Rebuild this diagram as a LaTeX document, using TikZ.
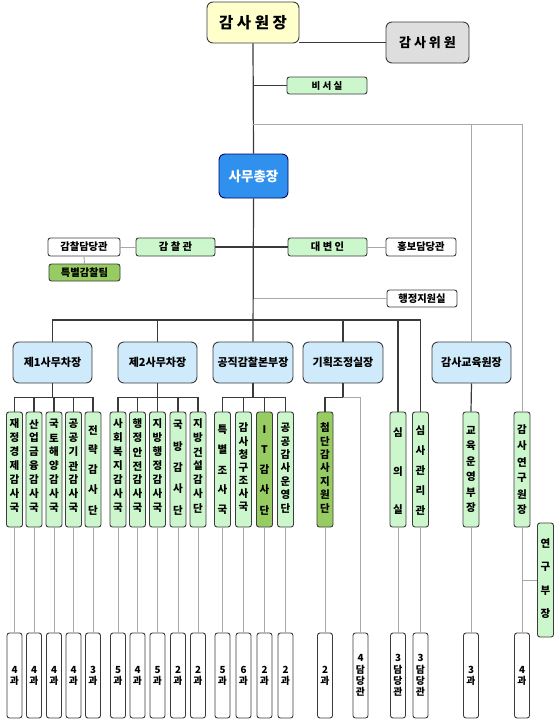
\documentclass[tikz,border=0pt]{standalone}
\usepackage{fontspec}
\newfontfamily\kr{Noto Sans CJK KR}
\definecolor{bordc}{HTML}{3C3C3C}
\definecolor{darkline}{HTML}{3A3A3A}
\definecolor{greyline}{HTML}{A8A8A8}
\definecolor{lgreen}{HTML}{CCF7CC}
\definecolor{dgreen}{HTML}{96CC62}
\definecolor{lblue}{HTML}{CFEAFA}
\definecolor{yell}{HTML}{FFFFCC}
\definecolor{lgray}{HTML}{DEDEDE}
\definecolor{blu}{HTML}{2F90EE}
\tikzset{
  box/.style={draw=bordc, line width=0.9pt, rounded corners=2.5pt, inner sep=0pt, font=\kr\bfseries\fontsize{10.3}{11}\selectfont},
  lg/.style={box, fill=lgreen},
  dg/.style={box, fill=dgreen},
  wh/.style={box, fill=white},
  dep/.style={box, fill=lblue, rounded corners=6pt, minimum width=79, minimum height=41, font=\kr\bfseries\fontsize{11}{12}\selectfont},
  vch/.style={inner sep=0pt, font=\kr\bfseries\fontsize{10.5}{11}\selectfont},
  bot/.style={wh, minimum width=15, minimum height=85, align=center, font=\kr\bfseries\fontsize{9.8}{11.2}\selectfont},
  mainln/.style={draw=darkline, line width=1.2pt},
  thinln/.style={draw=greyline, line width=0.9pt},
}
% name, style, x, top, bottom, text top, text bottom, chars
\newcommand\vcol[8]{%
  \node[#2, minimum width=16, minimum height={#5-#4}] (#1) at (#3,{(#4+#5)/2}) {};
  \foreach \cc [count=\ii] in {#8} {\xdef\vnum{\ii}}
  \foreach \cc [count=\ii] in {#8} {\node[vch] at (#3,{#6+(#7-#6)*(\ii-1)/(\vnum-1)}) {\cc};}
}
\begin{document}
\begin{tikzpicture}[x=1pt,y=-1pt]
\useasboundingbox (0,0) rectangle (560,721);
\fill[white] (0,0) rectangle (560,721);

% top
\node[box, fill=yell, rounded corners=6pt, minimum width=92, minimum height=41, font=\kr\bfseries\fontsize{15.5}{17}\selectfont] (wonjang) at (253,22.5) {감 사 원 장};
\node[box, fill=lgray, rounded corners=6pt, minimum width=83, minimum height=41, font=\kr\bfseries\fontsize{13}{14}\selectfont] (wiwon) at (427.5,42.5) {감 사 위 원};
\node[lg, minimum width=80, minimum height=17, font=\kr\bfseries\fontsize{9.5}{10}\selectfont] (biseo) at (327,85.5) {비 서 실};
\node[box, fill=blu, draw=blue!40!black, rounded corners=6pt, minimum width=69, minimum height=44, text=white, font=\kr\bfseries\fontsize{13.5}{15}\selectfont] (chong) at (253.5,176) {사무총장};

\node[wh, minimum width=72, minimum height=18] (gdd) at (84,247) {감찰담당관};
\node[lg, minimum width=79, minimum height=18] (gcg) at (175.5,247) {감 찰 관};
\node[lg, minimum width=79, minimum height=18] (dbi) at (327.5,247) {대 변 인};
\node[wh, minimum width=70, minimum height=18] (hongbo) at (421,247) {홍보담당관};
\node[dg, minimum width=71, minimum height=17] (teuk) at (84.5,272.5) {특별감찰팀};
\node[wh, minimum width=70, minimum height=17] (haeng) at (422,298.5) {행정지원실};

% deputies
\node[dep] (d1) at (52.5,362.5) {제1사무차장};
\node[dep] (d2) at (157.5,362.5) {제2사무차장};
\node[dep, minimum width=80] (d3) at (253,362.5) {공직감찰본부장};
\node[dep, minimum width=80] (d4) at (343,362.5) {기획조정실장};
\node[dep] (d5) at (471.5,362.5) {감사교육원장};

% bureaus
\vcol{b1}{lg}{14.5}{412}{527}{424}{508}{재,정,경,제,감,사,국}
\vcol{b2}{lg}{34}{412}{527}{424}{508}{산,업,금,융,감,사,국}
\vcol{b3}{lg}{54}{412}{527}{424}{508}{국,토,해,양,감,사,국}
\vcol{b4}{lg}{73.5}{412}{527}{424}{508}{공,공,기,관,감,사,국}
\vcol{b5}{lg}{93}{412}{527}{430}{510}{전,략,감,사,단}
\vcol{b6}{lg}{118}{412}{527}{424}{508}{사,회,복,지,감,사,국}
\vcol{b7}{lg}{137.5}{412}{527}{424}{508}{행,정,안,전,감,사,국}
\vcol{b8}{lg}{157.5}{412}{527}{424}{508}{지,방,행,정,감,사,국}
\vcol{b9}{lg}{178}{412}{527}{425}{510}{국,방,감,사,단}
\vcol{b10}{lg}{198}{412}{527}{424}{508}{지,방,건,설,감,사,단}
\vcol{b11}{lg}{222.5}{412}{527}{430}{510}{특,별,조,사,국}
\vcol{b12}{lg}{243.5}{412}{527}{428}{507}{감,사,청,구,조,사,국}
\vcol{b13}{dg}{264.5}{412}{527}{430}{510}{I,T,감,사,단}
\vcol{b14}{lg}{285.5}{412}{527}{428}{508}{공,공,감,사,운,영,단}
\vcol{b15}{dg}{325}{412}{527}{428}{508}{첨,단,감,사,지,원,단}
\vcol{b17}{lg}{398}{412}{527}{433}{510}{심,의,실}
\vcol{b18}{lg}{420.5}{412}{527}{431}{510}{심,사,관,리,관}
\vcol{b19}{lg}{471}{412}{527}{430}{508}{교,육,운,영,부,장}
\vcol{b20}{lg}{522}{412}{527}{430}{510}{감,사,연,구,원,장}
\vcol{yb}{lg}{545.5}{523}{637}{543}{614}{연,구,부,장}

% bottom boxes
\node[bot] (c1) at (14.5,675.5) {4\\과};
\node[bot] (c2) at (34,675.5) {4\\과};
\node[bot] (c3) at (54,675.5) {4\\과};
\node[bot] (c4) at (73.5,675.5) {4\\과};
\node[bot] (c5) at (93,675.5) {3\\과};
\node[bot] (c6) at (118,675.5) {5\\과};
\node[bot] (c7) at (137.5,675.5) {4\\과};
\node[bot] (c8) at (157.5,675.5) {5\\과};
\node[bot] (c9) at (178,675.5) {2\\과};
\node[bot] (c10) at (198,675.5) {2\\과};
\node[bot] (c11) at (222.5,675.5) {5\\과};
\node[bot] (c12) at (243.5,675.5) {6\\과};
\node[bot] (c13) at (264.5,675.5) {2\\과};
\node[bot] (c14) at (285.5,675.5) {2\\과};
\node[bot] (c15) at (325,675.5) {2\\과};
\node[bot] (c16) at (360.5,675.5) {4\\담\\당\\관};
\node[bot] (c17) at (398,675.5) {3\\담\\당\\관};
\node[bot] (c18) at (420.5,675.5) {3\\담\\당\\관};
\node[bot] (c19) at (471,675.5) {3\\과};
\node[bot] (c20) at (522,675.5) {4\\과};

% connectors: dark
\coordinate (bar) at (253,320);
\draw[mainln] (wonjang.south) -- (chong.north);
\draw[mainln] (wonjang.south |- biseo.west) -- (biseo.west);
\draw[mainln] (wiwon.west) -- (wiwon.west -| wonjang.east);
\draw[mainln] (gcg.east) -- (dbi.west);
\draw[mainln] (chong.south) -- (d3.north);
\draw[mainln] (d1.north) |- (b18.north |- bar) -- (b18.north);
\draw[mainln] (d2.north) -- (d2.north |- bar);
\draw[mainln] (d4.north) -- (d4.north |- bar);
\draw[mainln] (b17.north) -- (b17.north |- bar);
\draw[mainln] (d1.south) -- ++(0,15);
\draw[mainln] (d2.south) -- ++(0,15);
\draw[mainln] (d3.south) -- ++(0,15);
\draw[mainln] (d4.south) -- ++(0,14) -| (b15.north);
\draw[mainln] (d5.south) -- (b19.north);
\draw[mainln] (b1.north) -- ++(0,-14) -| (b5.north);
\draw[mainln] (b6.north) -- ++(0,-14) -| (b10.north);
\draw[mainln] (b11.north) -- ++(0,-14) -| (b14.north);
\foreach \n in {b2,b3,b4,b7,b8,b9,b12,b13} {\draw[mainln] (\n.north) -- ++(0,-14);}

% connectors: grey
\draw[thinln] (gdd.east) -- (gcg.west);
\draw[thinln] (gdd.south) -- (teuk.north);
\draw[thinln] (dbi.east) -- (hongbo.west);
\draw[thinln] (chong.south |- haeng.west) -- (haeng.west);
\draw[thinln] (wonjang.south |- 0,124) -| (b20.north);
\draw[thinln] (d5.north |- 0,124) -- (d5.north);
\draw[thinln] (d4.south) ++(0,14) -| (c16.north);
\foreach \i in {1,...,15,17,18,19,20} {\draw[thinln] (b\i.south) -- (c\i.north);}
\draw[thinln] (b20.south |- yb.west) -- (yb.west);
\end{tikzpicture}
\end{document}
